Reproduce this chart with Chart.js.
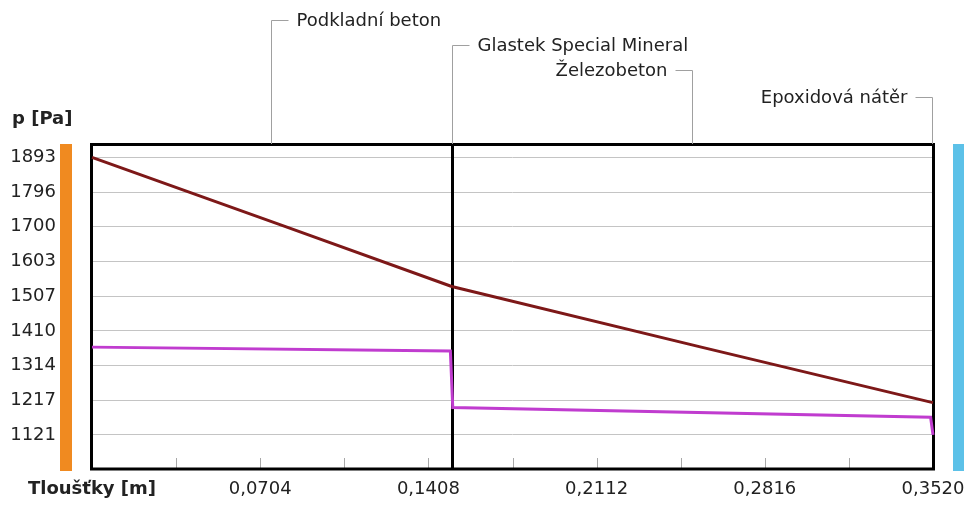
<!DOCTYPE html>
<html>
<head>
<meta charset="utf-8">
<script src="https://cdn.jsdelivr.net/npm/chart.js@4.4.1/dist/chart.umd.min.js"></script>
<style>
  html, body { margin: 0; padding: 0; background: #fff; }
  #wrap { width: 970px; height: 506px; }
  #chart { width: 970px; height: 506px; display: block; }
</style>
</head>
<body>
<div id="wrap"><canvas id="chart" width="970" height="506"></canvas></div>
<script>
// vrstvy konstrukce, hranice v m
const layerNames = ['Podkladní beton', 'Glastek Special Mineral', 'Železobeton', 'Epoxidová nátěr'];
const layerEdges = [0, 0.150, 0.151, 0.351, 0.352];

// nasycený tlak vodní páry (tmavě červená)
const satX = [0, 0.081, 0.150, 0.151, 0.255, 0.351, 0.352];
const satP = [1893, 1700, 1535, 1533, 1365, 1212, 1211];

// částečný tlak vodní páry (fialová)
const parX = [0, 0.150, 0.151, 0.351, 0.352];
const parP = [1365, 1354, 1197, 1170, 1121];

// osy
const xTicks = [0, 0.0352, 0.0704, 0.1056, 0.1408, 0.176, 0.2112, 0.2464, 0.2816, 0.3168, 0.352];
const xTickLabels = ['Tloušťky [m]', '', '0,0704', '', '0,1408', '', '0,2112', '', '0,2816', '', '0,3520'];
const yTicks = [1121, 1217, 1314, 1410, 1507, 1603, 1700, 1796, 1893];

// popisky vrstev: výška řádku a strana
const labelRows = [20, 45, 70, 97];
const labelSides = ['right', 'right', 'left', 'left'];

const FONT = '"DejaVu Sans", sans-serif';
const TEXT = '#222';

const decor = {
    id: 'decor',
    beforeDatasetsDraw(chart) {
        const { ctx, chartArea: a, scales: { x } } = chart;
        ctx.save();
        // male znacky na ose x
        ctx.strokeStyle = '#a8a8a8';
        ctx.lineWidth = 1;
        xTicks.slice(1, -1).forEach(v => {
            const px = Math.round(x.getPixelForValue(v)) + 0.5;
            ctx.beginPath();
            ctx.moveTo(px, a.bottom - 1);
            ctx.lineTo(px, a.bottom - 11);
            ctx.stroke();
        });
        // hranice vrstev (tenke vrstvy splynou do jedne cary)
        const edges = [];
        layerEdges.forEach(v => {
            const px = x.getPixelForValue(v);
            const last = edges[edges.length - 1];
            if (last && px - last.px < 5) last.px = (last.px + px) / 2;
            else edges.push({ px });
        });
        ctx.strokeStyle = '#000';
        ctx.lineWidth = 3;
        edges.forEach(e => {
            if (e.px <= a.left + 3 || e.px >= a.right - 3) return;
            const px = Math.round(e.px) + 0.5;
            ctx.beginPath();
            ctx.moveTo(px, a.top);
            ctx.lineTo(px, a.bottom);
            ctx.stroke();
        });
        // ramecek
        ctx.strokeRect(a.left - 0.5, a.top + 0.5, a.right - a.left + 1, a.bottom - a.top - 0.5);
        ctx.restore();
    },
    afterDraw(chart) {
        const { ctx, chartArea: a, scales: { x } } = chart;
        ctx.save();
        // barevne pruhy interier / exterier
        ctx.fillStyle = '#f08a20';
        ctx.fillRect(a.left - 32, a.top, 12, a.bottom - a.top + 2);
        ctx.fillStyle = '#5cc1e8';
        ctx.fillRect(a.right + 20, a.top, 11, a.bottom - a.top + 2);

        // popisky vrstev s odkazovou carou
        ctx.font = '18px ' + FONT;
        ctx.textBaseline = 'middle';
        layerNames.forEach((name, i) => {
            const mid = (layerEdges[i] + layerEdges[i + 1]) / 2;
            const px = Math.round(x.getPixelForValue(mid)) + 0.5;
            const py = labelRows[i] + 0.5;
            const dir = labelSides[i] === 'right' ? 1 : -1;
            ctx.strokeStyle = '#a0a0a0';
            ctx.lineWidth = 1;
            ctx.beginPath();
            ctx.moveTo(px, a.top);
            ctx.lineTo(px, py);
            ctx.lineTo(px + dir * 17, py);
            ctx.stroke();
            ctx.fillStyle = TEXT;
            ctx.textAlign = dir > 0 ? 'left' : 'right';
            ctx.fillText(name, px + dir * 25, labelRows[i] + 1);
        });

        // popis osy y
        ctx.font = 'bold 18px ' + FONT;
        ctx.textAlign = 'left';
        ctx.fillStyle = TEXT;
        ctx.fillText('p [Pa]', a.left - 80, a.top - 25);
        ctx.restore();
    }
};

const ctx = document.getElementById('chart').getContext('2d');

new Chart(ctx, {
    type: 'line',
    data: {
        datasets: [{
            label: 'p sat',
            data: satX.map((v, i) => ({ x: v, y: satP[i] })),
            borderColor: '#7d1818',
            borderWidth: 3,
            pointRadius: 0,
            tension: 0,
            clip: 6
        }, {
            label: 'p',
            data: parX.map((v, i) => ({ x: v, y: parP[i] })),
            borderColor: '#c03ccf',
            borderWidth: 3,
            pointRadius: 0,
            tension: 0,
            clip: 6
        }]
    },
    options: {
        responsive: false,
        maintainAspectRatio: false,
        animation: false,
        layout: { padding: { left: 0, top: 144, right: 37, bottom: 0 } },
        scales: {
            x: {
                type: 'linear',
                min: 0,
                max: 0.352,
                afterBuildTicks: (scale) => { scale.ticks = xTicks.map(v => ({ value: v })); },
                afterFit: (scale) => { scale.height = 37; },
                grid: { display: false },
                border: { display: false },
                ticks: {
                    autoSkip: false,
                    maxRotation: 0,
                    padding: 2,
                    color: TEXT,
                    font: (c) => c.index === 0
                        ? { family: FONT, size: 18, weight: 'bold' }
                        : { family: FONT, size: 18 },
                    callback: (value, index) => xTickLabels[index]
                }
            },
            y: {
                min: 1026,
                max: 1930,
                afterBuildTicks: (scale) => { scale.ticks = yTicks.map(v => ({ value: v })); },
                afterFit: (scale) => {
                    scale.width = 92;
                    // tick padding by jinak zvetsil okraje nahore a dole
                    scale.paddingTop = 0;
                    scale.paddingBottom = 0;
                },
                grid: { color: '#c4c4c4', lineWidth: 1, drawTicks: false },
                border: { display: false },
                ticks: {
                    padding: 36,
                    color: TEXT,
                    font: { family: FONT, size: 18 },
                    callback: (value) => String(value)
                }
            }
        },
        plugins: {
            legend: { display: false },
            tooltip: { enabled: false }
        }
    },
    plugins: [decor]
});
</script>
</body>
</html>
